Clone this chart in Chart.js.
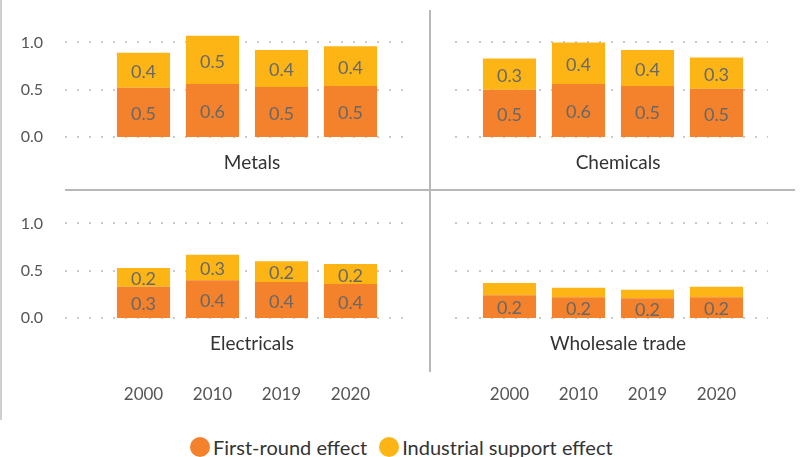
<!DOCTYPE html>
<html>
<head>
<meta charset="utf-8">
<script src="https://cdn.jsdelivr.net/npm/chart.js@4"></script>
<style>
  body { margin: 0; background: #fff; }
  #wrap { position: relative; width: 805px; height: 457px; overflow: hidden; font-family: Lato, sans-serif; }
  .panel { position: absolute; }
  .line { position: absolute; background: #b8b8b8; }
  #legend { position: absolute; left: 190px; top: 435px; display: flex; align-items: center; font-size: 20px; color: #333; white-space: nowrap; }
  #legend .dot { width: 20px; height: 20px; border-radius: 50%; display: inline-block; margin-right: 3px; }
  #legend .item { display: flex; align-items: center; margin-right: 12px; }
</style>
</head>
<body>
<div id="wrap">
  <div class="line" style="left:0;top:0;width:2px;height:420px;background:#cfcfcf"></div>
  <div class="line" style="left:429px;top:10px;width:2px;height:362px"></div>
  <div class="line" style="left:65px;top:189px;width:730px;height:2px"></div>

  <div class="panel" style="left:0;top:0;width:430px;height:190px"><canvas id="metals"></canvas></div>
  <div class="panel" style="left:430px;top:0;width:375px;height:190px"><canvas id="chemicals"></canvas></div>
  <div class="panel" style="left:0;top:190px;width:430px;height:232px"><canvas id="electricals"></canvas></div>
  <div class="panel" style="left:430px;top:190px;width:375px;height:232px"><canvas id="wholesale"></canvas></div>

  <div id="legend"></div>
</div>

<script>
// Chart data
const years = ['2000', '2010', '2019', '2020'];
const seriesNames = ['First-round effect', 'Industrial support effect'];
const seriesColors = ['#F4812B', '#FDB515'];
const yTicks = [0, 0.5, 1.0];

const metalsFirst = [0.52, 0.56, 0.53, 0.54];
const metalsSupport = [0.37, 0.51, 0.39, 0.42];
const chemicalsFirst = [0.50, 0.56, 0.54, 0.51];
const chemicalsSupport = [0.33, 0.44, 0.38, 0.33];
const electricalsFirst = [0.33, 0.40, 0.38, 0.36];
const electricalsSupport = [0.20, 0.27, 0.22, 0.21];
const wholesaleFirst = [0.24, 0.22, 0.21, 0.22];
const wholesaleSupport = [0.13, 0.10, 0.09, 0.11];

// Dotted grid lines that run past the plot area
const dotGrid = {
  id: 'dotGrid',
  beforeDatasetsDraw(chart, args, opts) {
    const { ctx, chartArea } = chart;
    const y = chart.scales.y;
    ctx.save();
    ctx.strokeStyle = '#c9c9c9';
    ctx.lineWidth = 2;
    ctx.setLineDash([2, 10]);
    yTicks.forEach(v => {
      const py = Math.round(y.getPixelForValue(v));
      ctx.beginPath();
      ctx.moveTo(chartArea.left - opts.extLeft, py);
      ctx.lineTo(chartArea.right + opts.extRight, py);
      ctx.stroke();
    });
    ctx.restore();
  }
};

// Value labels in the middle of each segment
const barLabels = {
  id: 'barLabels',
  afterDatasetsDraw(chart) {
    const { ctx } = chart;
    ctx.save();
    ctx.font = '18px Lato, sans-serif';
    ctx.fillStyle = '#686868';
    ctx.textAlign = 'center';
    ctx.textBaseline = 'middle';
    chart.data.datasets.forEach((ds, i) => {
      chart.getDatasetMeta(i).data.forEach((bar, j) => {
        const h = Math.abs(bar.base - bar.y);
        if (h < 16) return;
        ctx.fillText(ds.data[j].toFixed(1), bar.x, (bar.y + bar.base) / 2 + 2);
      });
    });
    ctx.restore();
  }
};

// Sector name under each panel
const panelTitle = {
  id: 'panelTitle',
  afterDraw(chart, args, opts) {
    const { ctx, chartArea } = chart;
    ctx.save();
    ctx.font = '19px Lato, sans-serif';
    ctx.fillStyle = '#333';
    ctx.textAlign = 'center';
    ctx.textBaseline = 'middle';
    ctx.fillText(opts.text, (chartArea.left + chartArea.right) / 2 + 5, chartArea.bottom + 26);
    ctx.restore();
  }
};

function makePanel(canvasId, title, first, support, showY, showX, padding, ext) {
  const ctx = document.getElementById(canvasId).getContext('2d');

  new Chart(ctx, {
    type: 'bar',
    data: {
      labels: years,
      datasets: [
        { label: seriesNames[0], data: first, backgroundColor: seriesColors[0] },
        { label: seriesNames[1], data: support, backgroundColor: seriesColors[1] }
      ]
    },
    options: {
      responsive: true,
      maintainAspectRatio: false,
      animation: false,
      layout: { padding: padding },
      datasets: { bar: { categoryPercentage: 1, barPercentage: 0.77 } },
      plugins: {
        legend: { display: false },
        tooltip: { enabled: false },
        dotGrid: ext,
        panelTitle: { text: title }
      },
      scales: {
        x: {
          stacked: true,
          display: showX,
          grid: { display: false, drawTicks: false },
          border: { display: false },
          ticks: {
            padding: 66,
            maxRotation: 0,
            autoSkip: false,
            color: '#555',
            font: { family: 'Lato', size: 17 }
          },
          afterFit: s => {
            s.height = showX ? 104 : 0;
            s.paddingLeft = 0;
            s.paddingRight = 0;
          }
        },
        y: {
          stacked: true,
          display: showY,
          min: 0,
          max: 1.1,
          grid: { display: false, drawTicks: false },
          border: { display: false },
          afterBuildTicks: s => { s.ticks = yTicks.map(v => ({ value: v })); },
          ticks: {
            padding: 66,
            color: '#555',
            font: { family: 'Lato', size: 16 },
            callback: v => v.toFixed(1)
          },
          afterFit: s => {
            s.width = showY ? 109 : 0;
            s.paddingTop = 0;
            s.paddingBottom = 0;
          }
        }
      }
    },
    plugins: [dotGrid, barLabels, panelTitle]
  });
}

makePanel('metals', 'Metals', metalsFirst, metalsSupport, true, false,
  { top: 33, right: 45, bottom: 53, left: 0 }, { extLeft: 44, extRight: 18 });
makePanel('chemicals', 'Chemicals', chemicalsFirst, chemicalsSupport, false, false,
  { top: 33, right: 54, bottom: 53, left: 45 }, { extLeft: 20, extRight: 17 });
makePanel('electricals', 'Electricals', electricalsFirst, electricalsSupport, true, true,
  { top: 24, right: 45, bottom: 0, left: 0 }, { extLeft: 44, extRight: 18 });
makePanel('wholesale', 'Wholesale trade', wholesaleFirst, wholesaleSupport, false, true,
  { top: 24, right: 54, bottom: 0, left: 45 }, { extLeft: 20, extRight: 17 });

// Legend
const legend = document.getElementById('legend');
seriesNames.forEach((name, i) => {
  const item = document.createElement('span');
  item.className = 'item';
  item.innerHTML = '<span class="dot" style="background:' + seriesColors[i] + '"></span>' + name;
  legend.appendChild(item);
});
</script>
</body>
</html>
